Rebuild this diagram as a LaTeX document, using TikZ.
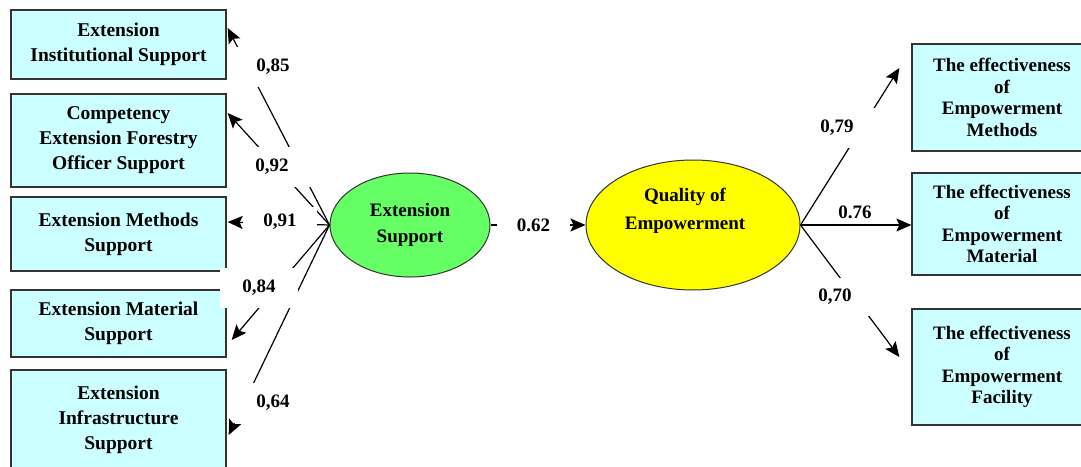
\documentclass[tikz,border=0pt]{standalone}
\usepackage{fontspec}
\setmainfont{Liberation Serif}
\usetikzlibrary{arrows.meta,shapes.geometric}
\definecolor{boxfill}{HTML}{CCFFFF}
\definecolor{greenfill}{HTML}{66FF66}
\definecolor{yellowfill}{HTML}{FFFF00}
\begin{document}
\begin{tikzpicture}[x=1pt,y=-1pt,
  boxL/.style={draw=black!80, line width=1.3pt, fill=boxfill, minimum width=215pt, inner sep=0pt, align=center, font=\fontsize{19.5}{25}\selectfont\bfseries},
  boxR/.style={draw=black!80, line width=1.3pt, fill=boxfill, minimum width=180pt, inner sep=0pt, align=center, font=\fontsize{19}{21.5}\selectfont\bfseries},
  lat/.style={ellipse, draw=black!80, line width=1pt, inner sep=0pt, align=center, font=\fontsize{19}{26}\selectfont\bfseries},
  conn/.style={line width=1.2pt, -{Stealth[length=15pt,width=13pt,inset=3pt]}},
  lbl/.style={fill=white, inner sep=0pt, font=\fontsize{19}{22}\selectfont\bfseries, minimum width=78pt, minimum height=40pt},
  lblplain/.style={inner sep=0pt, font=\fontsize{19}{22}\selectfont\bfseries}]
\clip (0,0) rectangle (1081,466);
\fill[white] (0,0) rectangle (1081,466);

% left indicator boxes
\node[boxL, minimum height=69pt] (b1) at (118.5,44.5) {Extension\\Institutional Support};
\node[boxL, minimum height=93pt] (b2) at (118.5,140.5) {Competency\\Extension Forestry\\Officer Support};
\node[boxL, minimum height=74pt] (b3) at (118.5,234) {Extension Methods\\Support};
\node[boxL, minimum height=67pt] (b4) at (118.5,323.5) {Extension Material\\Support};
\node[boxL, minimum height=100pt] (b5) at (118.5,420) {Extension\\Infrastructure\\Support};

% right indicator boxes
\node[boxR, minimum height=107pt] (r1) at (1002,97.5) {The effectiveness\\of\\Empowerment\\Methods};
\node[boxR, minimum height=102pt] (r2) at (1002,224) {The effectiveness\\of\\Empowerment\\Material};
\node[boxR, minimum height=116pt] (r3) at (1002,367) {The effectiveness\\of\\Empowerment\\Facility};

% latent variables
\node[lat, fill=greenfill, minimum width=160pt, minimum height=104pt] (es) at (410,225) {Extension\\Support};
\node[lat, fill=yellowfill, minimum width=214pt, minimum height=130pt,
  label={[align=center, inner sep=0pt, font=\fontsize{19}{28}\selectfont\bfseries, yshift=14pt, xshift=-8pt]center:Quality of\\Empowerment}] (qe) at (693,225) {};

% connectors
\draw[conn] (es.west) -- ([yshift=16.5pt,xshift=1pt]b1.east);
\draw[conn] (es.west) -- ([yshift=27.5pt,xshift=1pt]b2.east);
\draw[conn] (es.west) -- ([yshift=12pt,xshift=1pt]b3.east);
\draw[conn] (es.west) -- ([yshift=-16.5pt,xshift=5pt]b4.east);
\draw[conn] (es.west) -- ([yshift=-15pt,xshift=2pt]b5.east);
\draw[conn] (es.east) -- (qe.west);
\draw[conn] (qe.east) -- ([xshift=-12pt,yshift=29.5pt]r1.west);
\draw[conn] (qe.east) -- (qe.east -| r2.west);
\draw[conn] (qe.east) -- ([xshift=-12pt,yshift=10pt]r3.west);

% loading labels
\node[lbl] (l85) at (273,67) {0,85};
\node[lbl] (l92) at (272,167) {0,92};
\node[lbl, minimum width=74pt, minimum height=30pt] (l91) at (280,222) {0,91};
\node[lbl] (l84) at (259,288) {0,84};
\node[lbl, minimum height=40pt] (l64) at (273,403) {0,64};
\node[lbl, minimum width=73pt, minimum height=30pt] (l62) at (533.5,225) {0.62};
\node[lbl] (l79) at (837,128) {0,79};
\node[lblplain] (l76) at (855,212) {0.76};
\node[lbl, minimum width=70pt, minimum height=38pt] (l70) at (835,297) {0,70};
\end{tikzpicture}
\end{document}
